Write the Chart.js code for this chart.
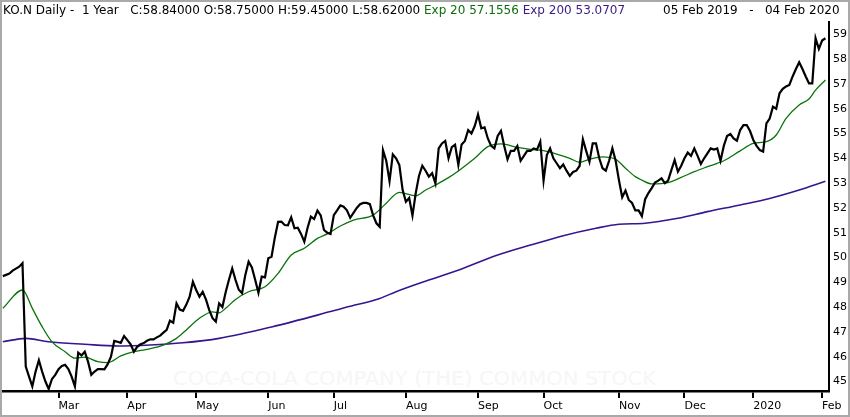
<!DOCTYPE html>
<html>
<head>
<meta charset="utf-8">
<script src="https://cdn.jsdelivr.net/npm/chart.js@4.4.1/dist/chart.umd.min.js"></script>
<style>
	html, body { margin: 0; padding: 0; background: #fff; overflow: hidden; }
	#root { position: relative; width: 850px; height: 417px; background: #fff; }
	#main-chart { position: absolute; left: 0; top: 0; z-index: 1; }
	.hdr { position: absolute; top: 3px; font: 12px "DejaVu Sans", sans-serif; color: #000; white-space: pre; z-index: 2; }
	#watermark { position: absolute; left: 173px; top: 366px; font: 20px "DejaVu Sans Condensed", "DejaVu Sans", sans-serif;
		color: #f6f6f6; white-space: pre; transform-origin: 0 0; z-index: 0; }
	#frame { position: absolute; left: 0; top: 0; width: 846px; height: 413px; border: 2px solid #a9a9a9; z-index: 3; pointer-events: none; }
</style>
</head>
<body>
<div id="root">
	<div id="watermark">COCA-COLA COMPANY (THE) COMMON STOCK</div>
	<canvas id="main-chart" width="850" height="417"></canvas>
	<div class="hdr" style="left:3px">KO.N Daily -  1 Year   C:58.84000 O:58.75000 H:59.45000 L:58.62000 <span style="color:#0b6e0b">Exp 20 57.1556</span> <span style="color:#3b1a86">Exp 200 53.0707</span></div>
	<div class="hdr" style="left:663px">05 Feb 2019   -   04 Feb 2020</div>
	<div id="frame"></div>
</div>
<script>
// trading day index 0 = 05 Feb 2019, 251 = 04 Feb 2020
const monthLabels = ['Mar', 'Apr', 'May', 'Jun', 'Jul', 'Aug', 'Sep', 'Oct', 'Nov', 'Dec', '2020', 'Feb'];
const monthStartDays = [17, 38, 59, 81, 101, 123, 145, 165, 188, 208, 229, 250];
const priceTicks = [45, 46, 47, 48, 49, 50, 51, 52, 53, 54, 55, 56, 57, 58, 59];

// daily close
const closes = [
	49.25, 49.30, 49.35, 49.47, 49.55, 49.63, 49.77, 45.60, 45.20, 44.80,
	45.40, 45.86, 45.40, 45.00, 44.70, 45.10, 45.27, 45.50, 45.63, 45.67,
	45.50, 45.20, 44.80, 46.16, 46.05, 46.20, 45.80, 45.27, 45.40, 45.50,
	45.50, 45.49, 45.70, 46.00, 46.64, 46.60, 46.56, 46.83, 46.67, 46.50,
	46.20, 46.40, 46.50, 46.55, 46.64, 46.70, 46.70, 46.78, 46.85, 46.97,
	47.08, 47.45, 47.37, 48.15, 47.90, 47.85, 48.10, 48.42, 49.02, 48.69,
	48.42, 48.62, 48.30, 47.88, 47.55, 47.41, 48.15, 48.00, 48.60, 49.10,
	49.56, 49.10, 48.70, 48.56, 49.30, 49.83, 49.60, 49.10, 48.58, 49.23,
	49.20, 49.97, 50.03, 50.80, 51.44, 51.45, 51.31, 51.30, 51.62, 51.18,
	51.20, 50.95, 50.64, 51.20, 51.65, 51.55, 51.89, 51.70, 51.11, 51.00,
	50.95, 51.71, 51.90, 52.10, 52.05, 51.90, 51.60, 51.80, 52.00, 52.15,
	52.20, 52.20, 52.15, 51.70, 51.38, 51.24, 54.33, 53.90, 53.08, 54.16,
	54.00, 53.73, 52.72, 52.25, 52.40, 51.69, 52.60, 53.30, 53.70, 53.50,
	53.26, 53.40, 52.99, 54.40, 54.60, 54.70, 54.00, 54.45, 54.55, 53.73,
	54.56, 54.70, 55.14, 55.00, 55.30, 55.77, 55.21, 55.25, 54.80, 54.50,
	54.40, 54.90, 55.11, 54.50, 53.96, 54.30, 54.30, 54.50, 53.90, 54.10,
	54.30, 54.30, 54.40, 54.35, 54.67, 53.10, 54.13, 54.40, 54.00, 53.80,
	53.60, 53.75, 53.50, 53.29, 53.45, 53.50, 53.69, 54.77, 54.30, 53.86,
	54.60, 54.60, 54.00, 53.60, 53.50, 53.90, 54.40, 53.90, 53.12, 52.43,
	52.70, 52.32, 52.20, 51.90, 51.90, 51.67, 52.35, 52.60, 52.80, 53.02,
	53.10, 53.19, 53.00, 53.10, 53.52, 53.93, 53.46, 53.70, 54.00, 54.23,
	54.10, 54.40, 54.10, 53.77, 54.00, 54.20, 54.40, 54.35, 54.40, 53.90,
	54.50, 54.90, 54.98, 54.80, 54.71, 55.14, 55.34, 55.34, 55.10, 54.74,
	54.50, 54.33, 54.27, 55.41, 55.60, 56.08, 56.00, 56.62, 56.80, 56.90,
	56.96, 57.30, 57.60, 57.87, 57.60, 57.30, 57.02, 57.02, 58.84, 58.41,
	58.75, 58.84
];

// Exp 20 at these days
const ema20Days = [0, 6, 9, 12, 15, 19, 22, 25, 29, 32, 36, 40, 44, 49, 53, 56, 60, 64, 66, 68,
	71, 75, 80, 84, 88, 92, 96, 99, 103, 107, 113, 117, 121, 126, 129, 132, 136, 139, 144, 148,
	152, 157, 161, 165, 169, 173, 176, 179, 183, 187, 190, 193, 195, 198, 203, 207, 211, 215, 220, 225,
	229, 233, 236, 239, 243, 246, 248, 251];
const ema20Values = [47.95, 48.69, 47.95, 47.21, 46.60, 46.20, 45.94, 45.98, 45.80, 45.76, 46.03, 46.20, 46.30, 46.47, 46.74, 47.08, 47.55, 47.81, 47.77, 47.95,
	48.31, 48.62, 48.82, 49.36, 50.10, 50.37, 50.77, 50.95, 51.27, 51.51, 51.71, 52.19, 52.63, 52.49, 52.72, 52.92, 53.22, 53.49, 54.00, 54.47,
	54.58, 54.44, 54.36, 54.31, 54.17, 54.00, 53.84, 53.96, 54.06, 53.96, 53.60, 53.26, 53.12, 52.97, 53.02, 53.23, 53.46, 53.66, 53.90, 54.30,
	54.60, 54.67, 54.94, 55.61, 56.15, 56.39, 56.75, 57.16];

// Exp 200
const ema200Days = [0, 7, 14, 25, 35, 45, 55, 66, 82, 100, 105, 115, 120, 130, 140, 151, 161, 171, 181, 188, 196, 206, 215, 225, 234, 243, 251];
const ema200Values = [46.60, 46.74, 46.60, 46.50, 46.43, 46.47, 46.56, 46.74, 47.20, 47.82, 48.00, 48.35, 48.62, 49.09, 49.54, 50.10, 50.50, 50.88, 51.18, 51.34, 51.38, 51.58, 51.85, 52.12, 52.38, 52.72, 53.07];

const axisFont = { family: '"DejaVu Sans", sans-serif', size: 11 };

function make() {
	var ctx = document.getElementById('main-chart');

	return new Chart(ctx, {
		type: 'line',
		data: {
			datasets: [
				{
					label: 'KO.N',
					data: closes.map((v, i) => ({ x: i, y: v })),
					borderColor: '#000',
					borderWidth: 2.2,
					pointRadius: 0,
					tension: 0
				},
				{
					label: 'Exp 20',
					data: ema20Days.map((d, i) => ({ x: d, y: ema20Values[i] })),
					borderColor: '#0b730b',
					borderWidth: 1.3,
					pointRadius: 0,
					cubicInterpolationMode: 'monotone'
				},
				{
					label: 'Exp 200',
					data: ema200Days.map((d, i) => ({ x: d, y: ema200Values[i] })),
					borderColor: '#35168f',
					borderWidth: 1.6,
					pointRadius: 0,
					cubicInterpolationMode: 'monotone'
				}
			]
		},
		options: {
			responsive: false,
			animation: false,
			devicePixelRatio: 1,
			layout: { padding: { left: 2, top: 22, right: 0, bottom: 0 } },
			plugins: { legend: { display: false }, tooltip: { enabled: false } },
			scales: {
				x: {
					type: 'linear',
					min: -0.25,
					max: 252.1,
					afterBuildTicks: s => { s.ticks = monthStartDays.map(v => ({ value: v })); },
					afterFit: s => { s.height = 26; },
					grid: { display: true, drawOnChartArea: false, drawTicks: true, tickLength: 7, color: '#000', lineWidth: 2 },
					border: { display: true, color: '#000', width: 2.5 },
					ticks: {
						align: 'start',
						padding: 2,
						autoSkip: false,
						maxRotation: 0,
						color: '#000',
						font: axisFont,
						callback: (v, i) => monthLabels[i]
					}
				},
				y: {
					position: 'right',
					min: 44.617,
					max: 59.496,
					afterBuildTicks: s => { s.ticks = priceTicks.map(v => ({ value: v })); },
					afterFit: s => { s.width = 21; },
					grid: { display: false, drawTicks: false },
					border: { display: true, color: '#000', width: 2 },
					ticks: { padding: 4, color: '#000', font: axisFont }
				}
			}
		}
	});
}

// stretch the faint watermark to its width in the picture
function fitWatermark() {
	var wm = document.getElementById('watermark');
	var w = wm.getBoundingClientRect().width;
	wm.style.transform = 'scaleX(' + (483 / w) + ')';
}

fitWatermark();
make();
</script>
</body>
</html>
